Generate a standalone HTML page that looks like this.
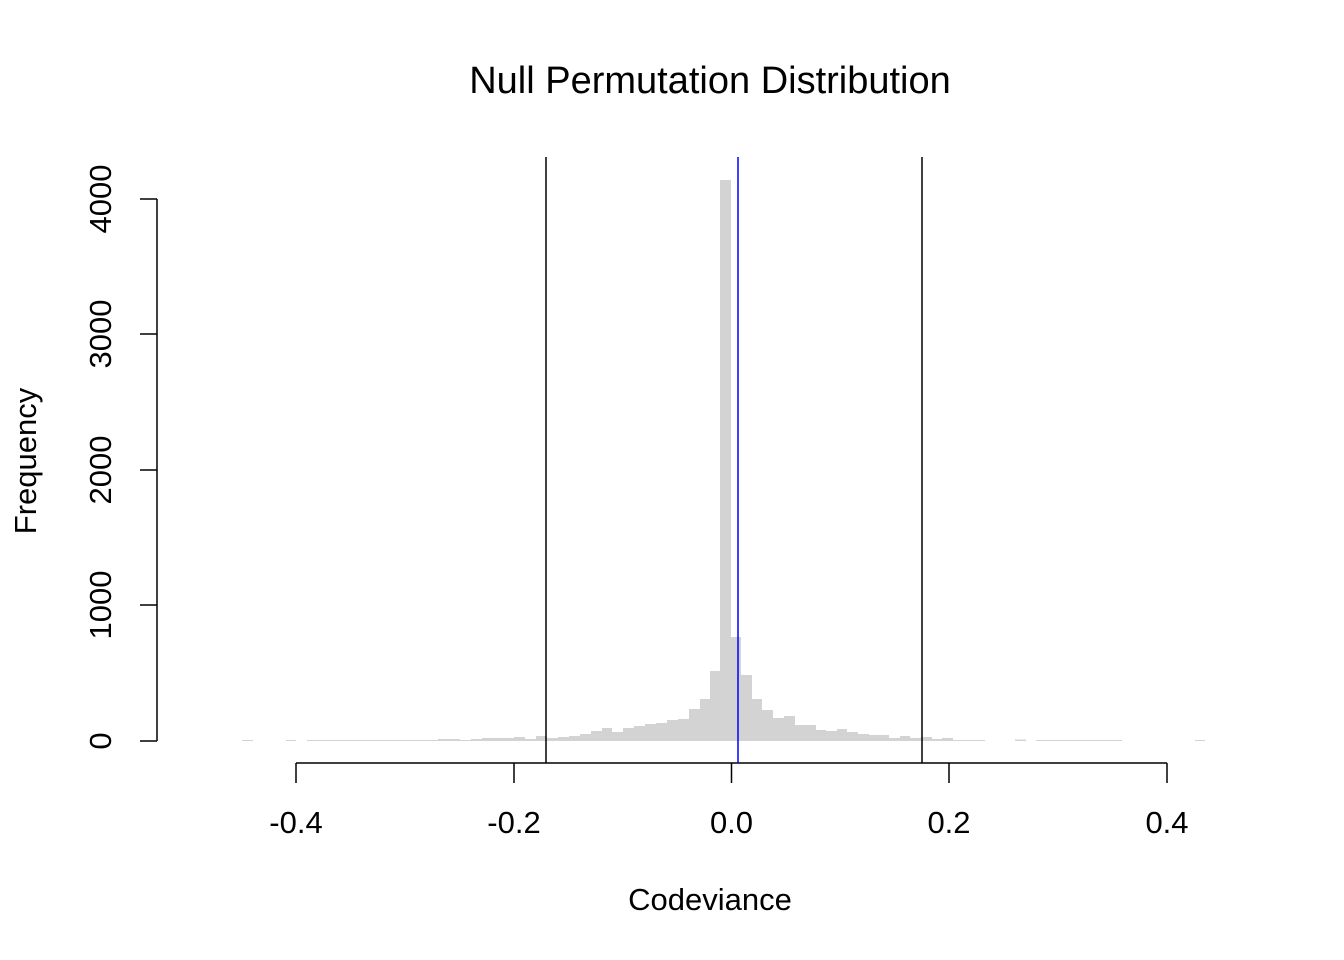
<!DOCTYPE html>
<html><head><style>body{margin:0;background:#fff}svg{display:block}text{font-family:"Liberation Sans",Arial,sans-serif;fill:#000}</style></head><body>
<svg width="1344" height="960" viewBox="0 0 1344 960">
<text x="710" y="93" font-size="38" text-anchor="middle">Null Permutation Distribution</text>
<g fill="#d3d3d3">
<rect x="242" y="740" width="11" height="1"/>
<rect x="286" y="740" width="10" height="1"/>
<rect x="307" y="740" width="131" height="1"/>
<rect x="438" y="739" width="22" height="2"/>
<rect x="460" y="740" width="11" height="1"/>
<rect x="471" y="739" width="11" height="2"/>
<rect x="482" y="738" width="32" height="3"/>
<rect x="514" y="737" width="11" height="4"/>
<rect x="525" y="739" width="11" height="2"/>
<rect x="536" y="736" width="11" height="5"/>
<rect x="547" y="738" width="11" height="3"/>
<rect x="558" y="737" width="11" height="4"/>
<rect x="569" y="736" width="11" height="5"/>
<rect x="580" y="734" width="11" height="7"/>
<rect x="591" y="731" width="11" height="10"/>
<rect x="602" y="728" width="10" height="13"/>
<rect x="612" y="732" width="11" height="9"/>
<rect x="623" y="728" width="11" height="13"/>
<rect x="634" y="726" width="11" height="15"/>
<rect x="645" y="724" width="11" height="17"/>
<rect x="656" y="723" width="11" height="18"/>
<rect x="667" y="720" width="11" height="21"/>
<rect x="678" y="719" width="11" height="22"/>
<rect x="689" y="709" width="11" height="32"/>
<rect x="700" y="699" width="10" height="42"/>
<rect x="710" y="671" width="10" height="70"/>
<rect x="720" y="180" width="11" height="561"/>
<rect x="731" y="637" width="10" height="104"/>
<rect x="741" y="675" width="11" height="66"/>
<rect x="752" y="699" width="10" height="42"/>
<rect x="762" y="710" width="11" height="31"/>
<rect x="773" y="718" width="11" height="23"/>
<rect x="784" y="716" width="11" height="25"/>
<rect x="795" y="725" width="21" height="16"/>
<rect x="816" y="730" width="10" height="11"/>
<rect x="826" y="731" width="11" height="10"/>
<rect x="837" y="729" width="10" height="12"/>
<rect x="847" y="732" width="11" height="9"/>
<rect x="858" y="734" width="11" height="7"/>
<rect x="869" y="735" width="20" height="6"/>
<rect x="889" y="738" width="11" height="3"/>
<rect x="900" y="736" width="10" height="5"/>
<rect x="910" y="738" width="11" height="3"/>
<rect x="921" y="737" width="11" height="4"/>
<rect x="932" y="739" width="10" height="2"/>
<rect x="942" y="738" width="11" height="3"/>
<rect x="953" y="740" width="32" height="1"/>
<rect x="1015" y="739.5" width="11" height="1.5"/>
<rect x="1036" y="740" width="20" height="1"/>
<rect x="1056" y="740" width="66" height="1"/>
<rect x="1195" y="740" width="10" height="1"/>
</g>
<g stroke="#000" stroke-width="1.5" fill="none">
<line x1="546" y1="157" x2="546" y2="763"/>
<line x1="922" y1="157" x2="922" y2="763"/>
<path d="M296 763H1167M296 763V783M514 763V783M731.5 763V783M949 763V783M1167 763V783"/>
<path d="M157 199V741M157 741H140M157 605H140M157 470H140M157 334H140M157 199H140"/>
</g>
<line x1="738" y1="157" x2="738" y2="763" stroke="#0000ff" stroke-width="1.5"/>
<g font-size="31" text-anchor="middle">
<text x="296" y="833">-0.4</text>
<text x="514" y="833">-0.2</text>
<text x="731.5" y="833">0.0</text>
<text x="949" y="833">0.2</text>
<text x="1167" y="833">0.4</text>
<text x="710" y="910">Codeviance</text>
<text transform="translate(111,741) rotate(-90)">0</text>
<text transform="translate(111,605) rotate(-90)">1000</text>
<text transform="translate(111,470) rotate(-90)">2000</text>
<text transform="translate(111,334) rotate(-90)">3000</text>
<text transform="translate(111,199) rotate(-90)">4000</text>
<text transform="translate(36,461) rotate(-90)">Frequency</text>
</g>
</svg>
</body></html>
